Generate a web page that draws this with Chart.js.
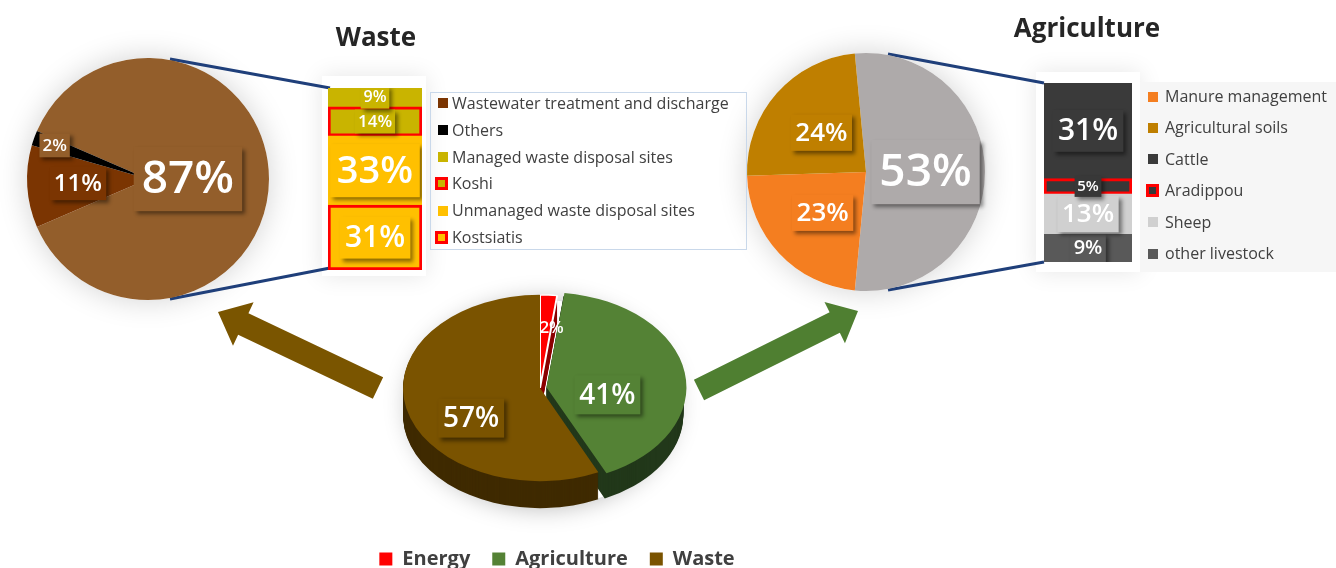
<!DOCTYPE html>
<html lang="en">
<head>
<meta charset="utf-8">
<title>Emissions by sector</title>
<script src="https://cdn.jsdelivr.net/npm/chart.js@4.4.1/dist/chart.umd.min.js"></script>
<style>
  body { margin: 0; background: #fff; font-family: 'Open Sans', sans-serif; }
  #board { position: relative; width: 1336px; height: 568px; overflow: hidden; }
  #board canvas { position: absolute; }
  .title { position: absolute; width: 240px; text-align: center; font-weight: 700; font-size: 26px; line-height: 36px; color: #262626; }
  .legend { position: absolute; font-size: 16px; color: #404040; }
  .legend div { position: relative; white-space: nowrap; }
  .legend span { position: absolute; width: 10px; height: 10px; box-sizing: border-box; }
  #wasteLegend div { height: 26.8px; line-height: 26.8px; padding-left: 22px; }
  #wasteLegend span { left: 8px; top: 8.4px; }
  #agriLegend div { height: 31.4px; line-height: 31.4px; padding-left: 25px; }
  #agriLegend span { left: 8px; top: 10.7px; }
  .legend span.hl { width: 13px; height: 13px; border: 3px solid #FF0000; }
  #wasteLegend span.hl { left: 5px; top: 6.9px; }
  #agriLegend span.hl { left: 6px; top: 9.2px; }
</style>
</head>
<body>
<div id="board">
  <canvas id="deco" width="1336" height="568" style="left:0;top:0"></canvas>

  <canvas id="wastePie" width="262" height="262" style="left:17px;top:48px"></canvas>
  <canvas id="wasteBar" width="94" height="182" style="left:328px;top:88px"></canvas>
  <div style="position:absolute;left:430px;top:92px;width:317px;height:158px;border:1px solid #C9D8EA;box-sizing:border-box"></div>
  <div id="wasteLegend" class="legend" style="left:430px;top:90px;width:317px"></div>
  <div class="title" style="left:256px;top:18px">Waste</div>

  <canvas id="agriPie" width="258" height="258" style="left:737px;top:43px"></canvas>
  <div style="position:absolute;left:1140px;top:82px;width:196px;height:190px;background:#F6F6F6"></div>
  <canvas id="agriBar" width="88" height="179" style="left:1044px;top:83px"></canvas>
  <div id="agriLegend" class="legend" style="left:1140px;top:81px;width:196px"></div>
  <div class="title" style="left:967px;top:9px">Agriculture</div>

  <canvas id="sectorPie" width="440" height="301" style="left:337px;top:278px"></canvas>
</div>

<script>
// === Data ===
const sectorLabels = ['Energy', 'Agriculture', 'Waste'];
const sectorShares = [2, 41, 57];
const sectorColors = ['#FF0000', '#548235', '#7A5300'];
const sectorSideColors = ['#8C0000', '#22381A', '#3F2A00'];

const wastePieLabels = ['Waste disposal sites', 'Wastewater treatment and discharge', 'Others'];
const wastePieShares = [87, 11, 2];
const wastePieColors = ['#935E2B', '#7B3502', '#000000'];

// stacked from the bottom up
const wasteBarLabels = ['Kostsiatis', 'Unmanaged waste disposal sites', 'Koshi', 'Managed waste disposal sites'];
const wasteBarShares = [31, 33, 14, 9];
const wasteBarColors = ['#FFC000', '#FFC000', '#C9B400', '#C9B400'];
const wasteBarHighlight = [true, false, true, false];

const agriPieLabels = ['Livestock', 'Manure management', 'Agricultural soils'];
const agriPieShares = [53, 23, 24];
const agriPieColors = ['#AEAAAA', '#F47E20', '#BF7F00'];

const agriBarLabels = ['other livestock', 'Sheep', 'Aradippou', 'Cattle'];
const agriBarShares = [9, 13, 5, 31];
const agriBarColors = ['#595959', '#D0D0D0', '#383838', '#3A3A3A'];
const agriBarHighlight = [false, false, true, false];

const wasteLegendItems = ['Wastewater treatment and discharge', 'Others', 'Managed waste disposal sites', 'Koshi', 'Unmanaged waste disposal sites', 'Kostsiatis'];
const agriLegendItems = ['Manure management', 'Agricultural soils', 'Cattle', 'Aradippou', 'Sheep', 'other livestock'];

// === Plugin: 3D tilt for the sector pie ===
const pie3d = {
  id: 'pie3d',
  beforeDatasetsDraw(chart, args, opts) {
    const ctx = chart.ctx;
    const meta = chart.getDatasetMeta(0);
    const cx = meta.data[0].x, cy = meta.data[0].y;
    chart.$pie3d = { cx, cy, tx: opts.x, ty: opts.y, tilt: opts.tilt };
    // side walls
    for (let d = opts.depth; d >= 1; d--) {
      ctx.save();
      ctx.translate(opts.x, opts.y + d);
      ctx.scale(1, opts.tilt);
      ctx.translate(-cx, -cy);
      meta.data.forEach((arc, i) => {
        const mid = (arc.startAngle + arc.endAngle) / 2;
        const off = (arc.options.offset || 0) / 4;
        const ax = arc.x + Math.cos(mid) * off, ay = arc.y + Math.sin(mid) * off;
        ctx.beginPath();
        ctx.moveTo(ax, ay);
        ctx.arc(ax, ay, arc.outerRadius, arc.startAngle, arc.endAngle);
        ctx.closePath();
        ctx.fillStyle = opts.sideColors[i];
        ctx.fill();
      });
      ctx.restore();
    }
    // top face
    ctx.save();
    ctx.translate(opts.x, opts.y);
    ctx.scale(1, opts.tilt);
    ctx.translate(-cx, -cy);
  },
  afterDatasetsDraw(chart) {
    chart.ctx.restore();
  }
};

// === Plugin: percentage labels in shaded boxes ===
const boxLabels = {
  id: 'boxLabels',
  afterDraw(chart, args, opts) {
    if (!opts.sizes) return;
    const ctx = chart.ctx;
    const items = [];
    if (chart.config.type === 'pie') {
      const meta = chart.getDatasetMeta(0);
      const ds = chart.data.datasets[0];
      meta.data.forEach((arc, i) => {
        const mid = (arc.startAngle + arc.endAngle) / 2;
        const off = (arc.options.offset || 0) / 4;
        const r = arc.outerRadius * opts.factors[i] + off;
        let x = arc.x + Math.cos(mid) * r;
        let y = arc.y + Math.sin(mid) * r;
        const p = chart.$pie3d;
        if (p) {
          x = p.tx + (x - p.cx);
          y = p.ty + (y - p.cy) * p.tilt;
        }
        if (opts.nudge) {
          x += opts.nudge[i][0];
          y += opts.nudge[i][1];
        }
        const boxColor = opts.boxColors ? opts.boxColors[i] : undefined;
        items.push({ x, y, text: ds.data[i] + '%', size: opts.sizes[i],
          box: boxColor === undefined || boxColor === null ? ds.backgroundColor[i] : boxColor });
      });
    } else {
      chart.data.datasets.forEach((ds, di) => {
        const bar = chart.getDatasetMeta(di).data[0];
        const c = bar.getCenterPoint();
        items.push({ x: c.x, y: c.y, text: ds.data[0] + '%', size: opts.sizes[di], box: ds.backgroundColor });
      });
    }
    items.forEach(it => {
      ctx.save();
      ctx.font = `600 ${it.size}px 'Open Sans'`;
      const w = ctx.measureText(it.text).width + it.size * 0.35;
      const h = it.size * 1.4;
      if (it.box && it.box !== 'none') {
        ctx.shadowColor = 'rgba(0,0,0,0.45)';
        ctx.shadowOffsetX = 3;
        ctx.shadowOffsetY = 3;
        ctx.shadowBlur = 4;
        ctx.fillStyle = it.box;
        ctx.fillRect(it.x - w / 2, it.y - h / 2, w, h);
      }
      ctx.restore();
      ctx.save();
      ctx.font = `600 ${it.size}px 'Open Sans'`;
      ctx.fillStyle = '#FFFFFF';
      ctx.textAlign = 'center';
      ctx.textBaseline = 'middle';
      ctx.fillText(it.text, it.x, it.y + it.size * 0.03);
      ctx.restore();
    });
  }
};

const noChrome = { legend: { display: false }, tooltip: { enabled: false } };

// === Waste breakdown (pie + bar) ===
new Chart(document.getElementById('wastePie'), {
  type: 'pie',
  data: {
    labels: wastePieLabels,
    datasets: [{ data: wastePieShares, backgroundColor: wastePieColors, borderWidth: 0 }]
  },
  options: {
    responsive: false, animation: false, radius: 121,
    rotation: 90 - wastePieShares[0] * 1.8,
    plugins: { ...noChrome, boxLabels: { sizes: [46, 24, 17], factors: [0.33, 0.58, 0.82], boxColors: [null, null, '#935E2B'] } }
  },
  plugins: [boxLabels]
});

function stackedBar(id, labels, values, colors, highlight, sizes) {
  return new Chart(document.getElementById(id), {
    type: 'bar',
    data: {
      labels: [''],
      datasets: labels.map((name, i) => ({
        label: name,
        data: [values[i]],
        backgroundColor: colors[i],
        borderColor: '#FF0000',
        borderWidth: highlight[i] ? 3 : 0,
        borderSkipped: false,
        barPercentage: 1,
        categoryPercentage: 1
      }))
    },
    options: {
      responsive: false, animation: false,
      layout: { padding: 0 },
      plugins: { ...noChrome, boxLabels: { sizes } },
      scales: {
        x: { display: false, stacked: true },
        y: { display: false, stacked: true, min: 0, max: values.reduce((a, b) => a + b, 0) }
      }
    },
    plugins: [boxLabels]
  });
}

stackedBar('wasteBar', wasteBarLabels, wasteBarShares, wasteBarColors, wasteBarHighlight, [30, 38, 17, 16]);

// === Agriculture breakdown (pie + bar) ===
new Chart(document.getElementById('agriPie'), {
  type: 'pie',
  data: {
    labels: agriPieLabels,
    datasets: [{ data: agriPieShares, backgroundColor: agriPieColors, borderWidth: 0 }]
  },
  options: {
    responsive: false, animation: false, radius: 119,
    rotation: 90 - agriPieShares[0] * 1.8,
    plugins: { ...noChrome, boxLabels: { sizes: [46, 26, 26], factors: [0.5, 0.5, 0.5] } }
  },
  plugins: [boxLabels]
});

stackedBar('agriBar', agriBarLabels, agriBarShares, agriBarColors, agriBarHighlight, [20, 26, 15, 30]);

// === Sector totals (tilted pie) ===
new Chart(document.getElementById('sectorPie'), {
  type: 'pie',
  data: {
    labels: sectorLabels,
    datasets: [{
      data: sectorShares,
      backgroundColor: sectorColors,
      borderColor: '#FFFFFF',
      borderWidth: [2, 0, 0],
      offset: [0, 26, 0],
      clip: false
    }]
  },
  options: {
    responsive: false, animation: false, radius: 137,
    plugins: {
      tooltip: { enabled: false },
      legend: {
        position: 'bottom',
        labels: {
          boxWidth: 13, boxHeight: 13, padding: 22, color: '#404040',
          font: { family: "'Open Sans'", size: 20, weight: 'bold' },
          generateLabels: chart => Chart.overrides.doughnut.plugins.legend.labels.generateLabels(chart)
            .map(l => ({ ...l, lineWidth: 0 }))
        }
      },
      pie3d: { x: 203, y: 110, tilt: 0.68, depth: 27, sideColors: sectorSideColors },
      boxLabels: {
        sizes: [17, 28, 28], factors: [0.65, 0.45, 0.59], boxColors: ['none', null, null],
        nudge: [[6, 0], [0, 14], [10, 18]]
      }
    }
  },
  plugins: [pie3d, boxLabels]
});

// === Legends for the breakdowns ===
function legendInfo(name, groups) {
  for (const g of groups) {
    const i = g.labels.indexOf(name);
    if (i >= 0) return { color: g.colors[i], highlight: g.highlight ? g.highlight[i] : false };
  }
  return { color: '#000', highlight: false };
}

function buildLegend(id, items, groups) {
  const box = document.getElementById(id);
  items.forEach(name => {
    const info = legendInfo(name, groups);
    const row = document.createElement('div');
    row.innerHTML = `<span class="${info.highlight ? 'hl' : ''}" style="background:${info.color}"></span>${name}`;
    box.appendChild(row);
  });
}

buildLegend('wasteLegend', wasteLegendItems, [
  { labels: wastePieLabels, colors: wastePieColors },
  { labels: wasteBarLabels, colors: wasteBarColors, highlight: wasteBarHighlight }
]);
buildLegend('agriLegend', agriLegendItems, [
  { labels: agriPieLabels, colors: agriPieColors },
  { labels: agriBarLabels, colors: agriBarColors, highlight: agriBarHighlight }
]);

// === Decoration: halos, connector lines and arrows ===
const deco = document.getElementById('deco').getContext('2d');

function halo(drawShape, blur, alpha) {
  deco.save();
  deco.shadowColor = `rgba(0,0,0,${alpha})`;
  deco.shadowBlur = blur;
  deco.fillStyle = '#FFFFFF';
  deco.beginPath();
  drawShape();
  deco.fill();
  deco.restore();
}

halo(() => deco.rect(322, 76, 104, 200), 22, 0.10);
halo(() => deco.rect(1036, 72, 104, 200), 22, 0.10);
halo(() => deco.arc(148, 179, 121, 0, Math.PI * 2), 30, 0.18);
halo(() => deco.arc(866, 172, 119, 0, Math.PI * 2), 30, 0.18);
halo(() => deco.ellipse(542, 404, 134, 104, 0, 0, Math.PI * 2), 24, 0.28);

function line(points) {
  deco.save();
  deco.strokeStyle = '#1F3F7A';
  deco.lineWidth = 3;
  deco.beginPath();
  points.forEach((p, i) => i ? deco.lineTo(p[0], p[1]) : deco.moveTo(p[0], p[1]));
  deco.stroke();
  deco.restore();
}

line([[170, 59], [330, 88]]);
line([[170, 299], [330, 268]]);
line([[888, 54], [1044, 83]]);
line([[888, 290], [1044, 262]]);

function arrow(from, to, shaft, head, headLen, color) {
  const dx = to[0] - from[0], dy = to[1] - from[1];
  const len = Math.hypot(dx, dy);
  const ux = dx / len, uy = dy / len, nx = -uy, ny = ux;
  const bx = to[0] - ux * headLen, by = to[1] - uy * headLen;
  deco.beginPath();
  deco.moveTo(from[0] + nx * shaft / 2, from[1] + ny * shaft / 2);
  deco.lineTo(bx + nx * shaft / 2, by + ny * shaft / 2);
  deco.lineTo(bx + nx * head / 2, by + ny * head / 2);
  deco.lineTo(to[0], to[1]);
  deco.lineTo(bx - nx * head / 2, by - ny * head / 2);
  deco.lineTo(bx - nx * shaft / 2, by - ny * shaft / 2);
  deco.lineTo(from[0] - nx * shaft / 2, from[1] - ny * shaft / 2);
  deco.closePath();
  deco.fillStyle = color;
  deco.fill();
}

arrow([378, 388], [218, 312], 24, 48, 28, '#7A5500');
arrow([699, 390], [858, 311], 23, 46, 26, '#4F7F31');
</script>
</body>
</html>
